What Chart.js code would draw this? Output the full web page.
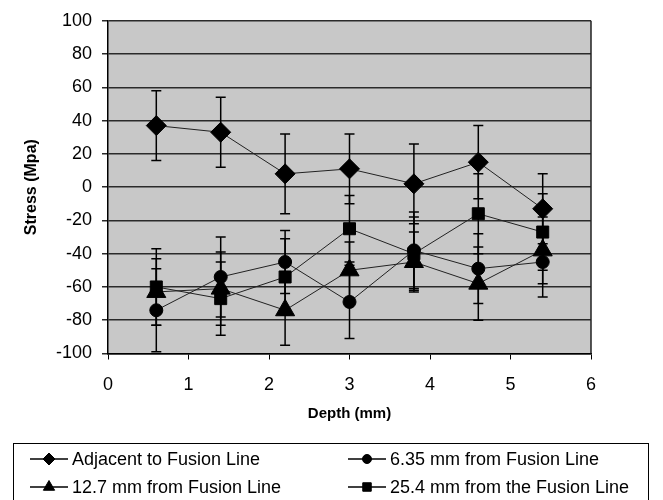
<!DOCTYPE html>
<html>
<head>
<meta charset="utf-8">
<script src="https://cdn.jsdelivr.net/npm/chart.js@4.4.1/dist/chart.umd.min.js"></script>
<style>
  html, body { margin: 0; padding: 0; background: #fff; }
  #wrap { width: 663px; height: 500px; }
</style>
</head>
<body>
<div id="wrap"><canvas id="chart" width="663" height="500"></canvas></div>
<script>
// depth positions (mm)
const depth = [0.6, 1.4, 2.2, 3.0, 3.8, 4.6, 5.4];

// stress values (MPa) and error bar half-widths
const adjacent    = [37, 33, 8, 11, 2, 15, -13];
const adjacentErr = [21, 21, 24, 21, 24, 22, 21];
const from635     = [-74, -54, -45, -69, -38, -49, -45];
const from635Err  = [25, 24, 19, 22, 23, 21, 21];
const from127     = [-63, -61, -74, -50, -45, -58, -38];
const from127Err  = [20, 22, 21, 17, 18, 22, 20];
const from254     = [-60, -67, -54, -25, -40, -16, -27];
const from254Err  = [23, 22, 23, 20, 22, 24, 23];

const seriesLabels = [
  'Adjacent to Fusion Line',
  '6.35 mm from Fusion Line',
  '12.7 mm from Fusion Line',
  '25.4 mm from the Fusion Line'
];
const yTicks = [-100, -80, -60, -40, -20, 0, 20, 40, 60, 80, 100];

const FONT = "'Liberation Sans', Arial, sans-serif";

function makeSet(label, values, errs, style, radius) {
  return {
    label: label,
    data: depth.map((d, i) => ({ x: d, y: values[i] })),
    errs: errs,
    showLine: true,
    borderColor: '#222',
    borderWidth: 1,
    pointStyle: style,
    pointRadius: radius,
    pointBackgroundColor: '#000',
    pointBorderColor: '#000',
    pointBorderWidth: 1,
    legendRadius: style === 'circle' ? 4.5 : (style === 'triangle' ? 6.5 : 6)
  };
}

const datasets = [
  makeSet(seriesLabels[0], adjacent, adjacentErr, 'rectRot', 10),
  makeSet(seriesLabels[1], from635, from635Err, 'circle', 6.5),
  makeSet(seriesLabels[2], from127, from127Err, 'triangle', 11),
  makeSet(seriesLabels[3], from254, from254Err, 'rect', 8.5)
];

// grey plot area + right border
const plotBg = {
  id: 'plotBg',
  beforeDraw(chart) {
    const { ctx, chartArea: a } = chart;
    ctx.save();
    ctx.fillStyle = '#c8c8c8';
    ctx.fillRect(a.left, a.top, a.right - a.left, a.bottom - a.top);
    ctx.restore();
  },
  afterDraw(chart) {
    const { ctx, chartArea: a } = chart;
    ctx.save();
    ctx.strokeStyle = '#222';
    ctx.lineWidth = 1.5;
    ctx.beginPath();
    ctx.moveTo(a.right, a.top);
    ctx.lineTo(a.right, a.bottom);
    ctx.stroke();
    ctx.restore();
  }
};

// vertical error bars with caps
const errorBars = {
  id: 'errorBars',
  beforeDatasetsDraw(chart) {
    const { ctx } = chart;
    const xs = chart.scales.x, ys = chart.scales.y;
    ctx.save();
    ctx.strokeStyle = '#000';
    ctx.lineWidth = 1.5;
    chart.data.datasets.forEach(ds => {
      ds.data.forEach((p, i) => {
        const x = xs.getPixelForValue(p.x);
        const top = ys.getPixelForValue(p.y + ds.errs[i]);
        const bot = ys.getPixelForValue(p.y - ds.errs[i]);
        ctx.beginPath();
        ctx.moveTo(x, top); ctx.lineTo(x, bot);
        ctx.moveTo(x - 5, top); ctx.lineTo(x + 5, top);
        ctx.moveTo(x - 5, bot); ctx.lineTo(x + 5, bot);
        ctx.stroke();
      });
    });
    ctx.restore();
  }
};

// boxed legend, two columns
const boxLegend = {
  id: 'boxLegend',
  afterDraw(chart) {
    const { ctx } = chart;
    ctx.save();
    ctx.strokeStyle = '#000';
    ctx.lineWidth = 1;
    ctx.strokeRect(13.5, 443.5, 635, 70);
    const cols = [30, 348];
    const rows = [459, 487];
    ctx.font = '18px ' + FONT;
    ctx.textBaseline = 'middle';
    ctx.textAlign = 'left';
    chart.data.datasets.forEach((ds, i) => {
      const x0 = cols[i % 2], y = rows[Math.floor(i / 2)];
      ctx.strokeStyle = '#000';
      ctx.lineWidth = 1.5;
      ctx.beginPath();
      ctx.moveTo(x0, y); ctx.lineTo(x0 + 38, y);
      ctx.stroke();
      ctx.fillStyle = '#000';
      ctx.lineWidth = 1;
      Chart.helpers.drawPoint(ctx, { pointStyle: ds.pointStyle, radius: ds.legendRadius, rotation: 0, borderWidth: 1 }, x0 + 19, y);
      ctx.fillStyle = '#000';
      ctx.fillText(ds.label, x0 + 42, y + 1);
    });
    ctx.restore();
  }
};

new Chart(document.getElementById('chart'), {
  type: 'scatter',
  data: { datasets: datasets },
  options: {
    responsive: false,
    animation: false,
    layout: { padding: { top: 16, left: 22, right: 72, bottom: 77 } },
    plugins: {
      legend: { display: false },
      tooltip: { enabled: false }
    },
    scales: {
      x: {
        type: 'linear',
        min: 0, max: 6,
        afterFit: s => { s.height = 69.5; },
        ticks: { stepSize: 1, color: '#000', font: { family: FONT, size: 18 }, padding: 15 },
        grid: { drawOnChartArea: false, drawTicks: true, tickLength: 6, color: '#000' },
        border: { color: '#000', width: 1.5 },
        title: { display: true, text: 'Depth (mm)', color: '#000', font: { family: FONT, size: 15, weight: 'bold' }, padding: 0 }
      },
      y: {
        min: -100, max: 100,
        afterFit: s => { s.width = 86; },
        afterBuildTicks: s => { s.ticks = yTicks.map(v => ({ value: v })); },
        ticks: { color: '#000', font: { family: FONT, size: 18 }, padding: 10 },
        grid: { color: '#2a2a2a', lineWidth: 1.5, tickLength: 6 },
        border: { color: '#000', width: 1.5 },
        title: { display: true, text: 'Stress (Mpa)', color: '#000', font: { family: FONT, size: 16, weight: 'bold' }, padding: 0 }
      }
    }
  },
  plugins: [plotBg, errorBars, boxLegend]
});
</script>
</body>
</html>
